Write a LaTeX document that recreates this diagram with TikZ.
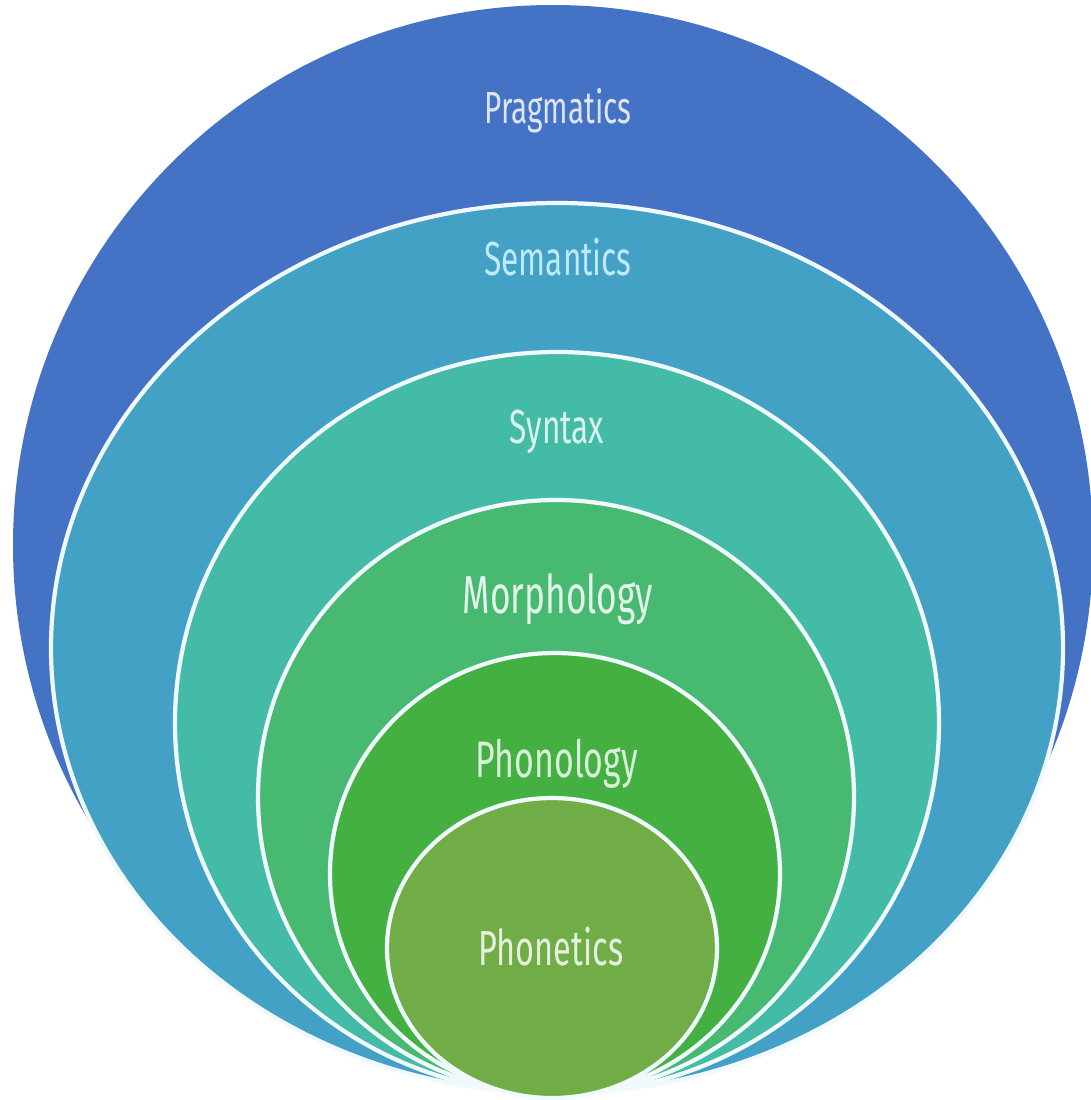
\documentclass[tikz,border=0pt]{standalone}
\usepackage{fontspec}
\usetikzlibrary{positioning}
\newfontfamily\lblfont[FakeStretch=0.66]{Fira Sans}

\definecolor{pragblue}{HTML}{4472C4}
\definecolor{semblue}{HTML}{42A1C5}
\definecolor{synteal}{HTML}{43BBA6}
\definecolor{morphgreen}{HTML}{48B970}
\definecolor{phonolgreen}{HTML}{44B042}
\definecolor{phonetgreen}{HTML}{70AD47}

\begin{document}
\begin{tikzpicture}[x=0.01cm, y=-0.01cm,
    ring/.style={fill=#1, draw=white!94!cyan, line width=1.2pt},
    lbl/.style={anchor=base, inner sep=0pt, font=\lblfont\fontsize{#1}{#1}\selectfont}]
  \useasboundingbox (0,0) rectangle (1091,1100);

  % nested levels, all touching at the bottom
  \fill[pragblue] (553,545) ellipse [x radius=540, y radius=540];
  \draw[ring=semblue] (557,648) ellipse [x radius=506, y radius=445];
  \draw[ring=synteal] (557,723) ellipse [x radius=382, y radius=371];
  \draw[ring=morphgreen] (556,797) ellipse [x radius=298, y radius=297];
  \draw[ring=phonolgreen] (555,874) ellipse [x radius=225, y radius=221];
  \draw[ring=phonetgreen] (552,948) ellipse [x radius=165, y radius=150];

  \node[lbl=12.8, text=white!82!pragblue] (prag) at (558,123) {Pragmatics};
  \node[lbl=13.6, text=white!75!cyan] (sem) at (558,275) {Semantics};
  \node[lbl=13.6, text=white!80!synteal] (syn) at (557,443) {Syntax};
  \node[lbl=15.2, text=white!85!morphgreen] (morph) at (558,613) {Morphology};
  \node[lbl=14.6, text=white!80!phonolgreen] (phonol) at (557,777) {Phonology};
  \node[lbl=14, text=white!82!phonetgreen] (phonet) at (551,965) {Phonetics};
\end{tikzpicture}
\end{document}
